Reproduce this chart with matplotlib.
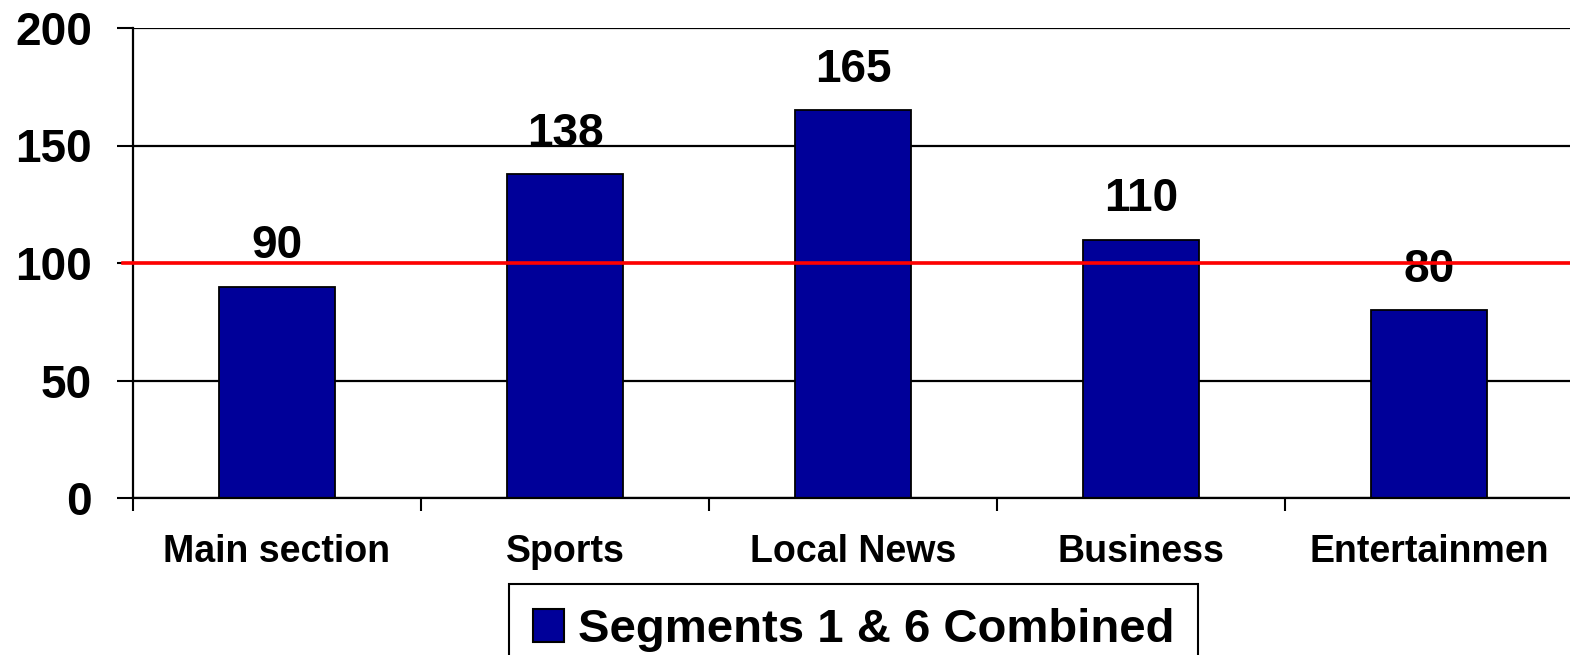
import matplotlib
matplotlib.use("Agg")
import matplotlib.pyplot as plt
from matplotlib.ticker import FixedLocator, NullFormatter, FixedFormatter

plt.rcParams['font.family'] = ['Liberation Sans', 'DejaVu Sans']
plt.rcParams['font.weight'] = 'bold'

categories = ["Main section", "Sports", "Local News", "Business", "Entertainmen"]
values = [90, 138, 165, 110, 80]
series_name = "Segments 1 & 6 Combined"
reference_value = 100
y_ticks = [0, 50, 100, 150, 200]

fig = plt.figure(figsize=(15.70, 6.55), dpi=100)
ax = fig.add_axes([133/1570, 1 - 498/655, 1440/1570, 470/655])

x = list(range(len(categories)))
bars = ax.bar(x, values, width=0.406, color='#000099', edgecolor='black',
              linewidth=1.3, zorder=2, label=series_name)

ax.set_xlim(-0.5, len(categories) - 0.5)
ax.set_ylim(0, 200)

# y axis
ax.set_yticks(y_ticks)
ax.set_yticklabels([str(v) for v in y_ticks], fontsize=33, fontweight='bold')
ax.tick_params(axis='y', direction='out', length=11.5, width=1.5, pad=18, colors='black')
ax.yaxis.grid(True, color='black', linewidth=1.6, zorder=1)
ax.set_axisbelow(True)

# x axis: major ticks at category boundaries, labels on minor ticks at centres
ax.xaxis.set_major_locator(FixedLocator([i - 0.5 for i in range(len(categories) + 1)]))
ax.xaxis.set_major_formatter(NullFormatter())
ax.xaxis.set_minor_locator(FixedLocator(x))
ax.xaxis.set_minor_formatter(FixedFormatter(categories))
ax.tick_params(axis='x', which='major', direction='out', length=9.5, width=1.5)
ax.tick_params(axis='x', which='minor', length=0, pad=26, labelsize=27)
for lab in ax.get_xticklabels(minor=True):
    lab.set_fontweight('bold')

for side in ['top', 'right']:
    ax.spines[side].set_visible(False)
for side in ['left', 'bottom']:
    ax.spines[side].set_linewidth(1.6)
    ax.spines[side].set_color('black')

# reference line
ax.axhline(reference_value, xmin=-0.0069, xmax=1.0, color='#FF0000', linewidth=2.6,
           zorder=5, clip_on=False)

# value labels
ax.bar_label(bars, labels=[str(v) for v in values], padding=13, fontsize=33,
             fontweight='bold', zorder=3)

# legend
leg = fig.legend(handles=[bars], labels=[series_name], loc='upper center',
                 bbox_to_anchor=(853.5/1570, 1 - 584/655),
                 prop={'weight': 'bold', 'size': 34}, frameon=True, fancybox=False,
                 edgecolor='black', framealpha=1, handlelength=0.65, handleheight=0.7,
                 handletextpad=0.3, borderpad=0.5, borderaxespad=0)
leg.get_frame().set_linewidth(1.5)
for h in leg.legend_handles:
    h.set_edgecolor('black')
    h.set_linewidth(1.5)

fig.savefig("out.png", dpi=100)
